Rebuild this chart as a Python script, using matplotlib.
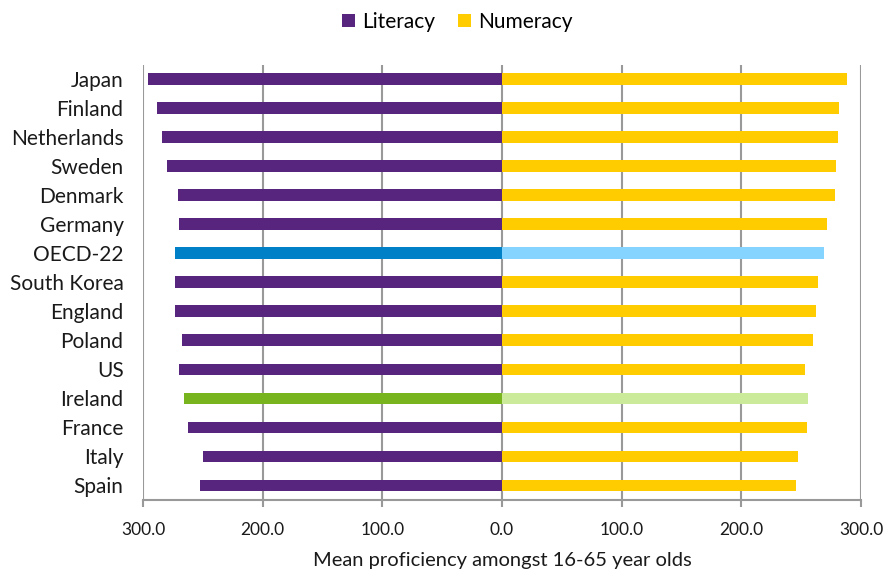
import matplotlib
matplotlib.use("Agg")
import matplotlib.pyplot as plt
from matplotlib.patches import Patch
from matplotlib.ticker import FixedLocator, FuncFormatter

countries = ["Japan", "Finland", "Netherlands", "Sweden", "Denmark", "Germany",
             "OECD-22", "South Korea", "England", "Poland", "US", "Ireland",
             "France", "Italy", "Spain"]
literacy = [296, 288, 284, 280, 271, 270, 273, 273, 273, 267, 270, 266, 262, 250, 252]
numeracy = [288, 282, 281, 279, 278, 272, 269, 264, 262, 260, 253, 256, 255, 247, 246]
x_ticks = [-300, -200, -100, 0, 100, 200, 300]

PURPLE = "#57257E"
YELLOW = "#FFCC00"
highlight_lit = {"OECD-22": "#0080C6", "Ireland": "#77B41E"}
highlight_num = {"OECD-22": "#84D4FF", "Ireland": "#CCEB9A"}

plt.rcParams["font.family"] = ["Lato", "DejaVu Sans"]

fig = plt.figure(figsize=(8.88, 5.78), dpi=100)
ax = fig.add_axes([143 / 888, 1 - 500 / 578, (861 - 143) / 888, (500 - 65) / 578])

ypos = list(range(len(countries)))
lit_colors = [highlight_lit.get(c, PURPLE) for c in countries]
num_colors = [highlight_num.get(c, YELLOW) for c in countries]

ax.barh(ypos, [-v for v in literacy], height=0.4, color=lit_colors, zorder=3)
ax.barh(ypos, numeracy, height=0.4, color=num_colors, zorder=3)

ax.set_xlim(-300, 300)
ax.set_ylim(len(countries) - 0.5, -0.48)

ax.xaxis.set_major_locator(FixedLocator(x_ticks))
ax.xaxis.set_major_formatter(FuncFormatter(lambda v, p: f"{abs(v):.1f}"))
ax.grid(axis="x", color="#999999", linewidth=1.5, zorder=0)
ax.set_axisbelow(True)

for side in ["top", "right", "left"]:
    ax.spines[side].set_visible(False)
ax.spines["bottom"].set_color("#999999")
ax.spines["bottom"].set_linewidth(1.5)

ax.tick_params(axis="x", direction="out", length=5, width=1.5, color="#999999",
               labelsize=12.5, labelcolor="#1a1a1a", pad=11)
ax.set_yticks(ypos)
ax.set_yticklabels(countries, fontsize=15, color="#1a1a1a")
ax.tick_params(axis="y", length=0, pad=14)

ax.set_xlabel("Mean proficiency amongst 16-65 year olds", fontsize=14.5,
              color="#1a1a1a", labelpad=10)

handles = [Patch(facecolor=PURPLE, label="Literacy"),
           Patch(facecolor=YELLOW, label="Numeracy")]
fig.legend(handles=handles, loc="center", bbox_to_anchor=(0.515, 0.962), ncol=2,
           frameon=False, fontsize=15, handlelength=0.6, handleheight=0.6,
           handletextpad=0.35, columnspacing=1.1)

fig.savefig("out.png", dpi=100)
